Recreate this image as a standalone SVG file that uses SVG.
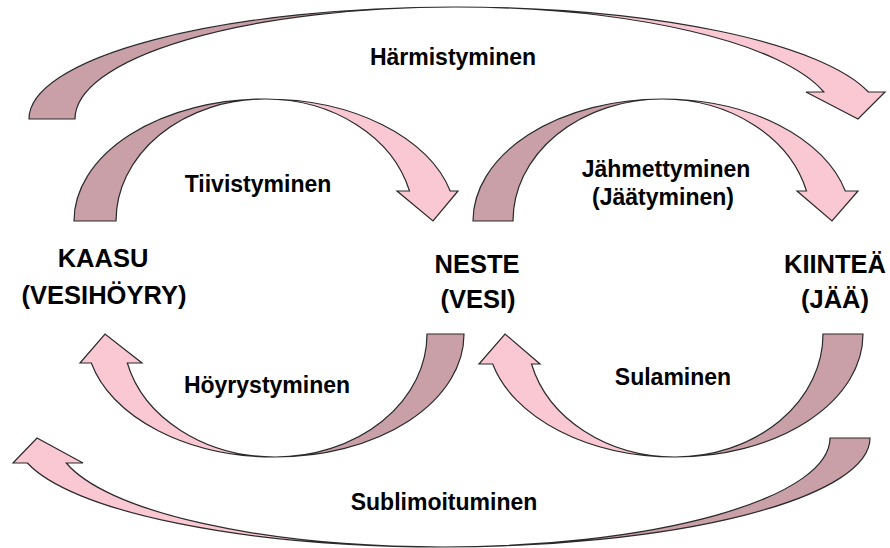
<svg xmlns="http://www.w3.org/2000/svg" width="890" height="548" viewBox="0 0 890 548">
  <style>
    .back { fill: #C9A0A7; stroke: #2a2a2a; stroke-width: 1.2; stroke-linejoin: miter; }
    .front { fill: #FAC8D2; stroke: #2a2a2a; stroke-width: 1.2; stroke-linejoin: miter; }
    .node { font-family: "Liberation Sans", Arial, sans-serif; font-weight: bold; font-size: 25.5px; fill: #000; text-anchor: middle; }
    .lbl { font-family: "Liberation Sans", Arial, sans-serif; font-weight: bold; font-size: 23px; fill: #000; text-anchor: middle; }
  </style>
  <rect width="890" height="548" fill="#ffffff"/>

  <g id="connectors">
    <!-- Härmistyminen (big top) -->
    <g id="c-harmistyminen">
      <path class="back" d="M 29,119 A 426 112 0 0 1 455,7 A 380 112 0 0 0 75,119 Z"/>
      <path class="front" d="M 455,7 A 426 112 0 0 1 868.4,92 L 885,92 L 858,119 L 806,92 L 823.8,92 A 380 112 0 0 0 455,7 Z"/>
      <text class="lbl" x="453" y="65">Härmistyminen</text>
    </g>
    <!-- Tiivistyminen -->
    <g id="c-tiivistyminen">
      <path class="back" d="M 74,221 A 191 122 0 0 1 265,99 A 149 122 0 0 0 116,221 Z"/>
      <path class="front" d="M 265,99 A 191 122 0 0 1 450.2,191 L 458,191 L 433,221 L 397,191 L 409.5,191 A 149 122 0 0 0 265,99 Z"/>
      <text class="lbl" x="258" y="192">Tiivistyminen</text>
    </g>
    <!-- Jähmettyminen -->
    <g id="c-jahmettyminen">
      <path class="back" d="M 473,221 A 189 122 0 0 1 662,99 A 149 122 0 0 0 513,221 Z"/>
      <path class="front" d="M 662,99 A 189 122 0 0 1 845.3,191 L 858,191 L 832,221 L 797,191 L 806.5,191 A 149 122 0 0 0 662,99 Z"/>
      <text class="lbl" x="666" y="177">Jähmettyminen</text>
      <text class="lbl" x="663" y="205">(Jäätyminen)</text>
    </g>
    <!-- Höyrystyminen -->
    <g id="c-hoyrystyminen">
      <path class="back" d="M 464,334 A 189 123 0 0 1 275,457 A 152 123 0 0 0 427,334 Z"/>
      <path class="front" d="M 275,457 A 189 123 0 0 1 91.3,363 L 80,363 L 105,334 L 142,363 L 127.3,363 A 152 123 0 0 0 275,457 Z"/>
      <text class="lbl" x="267" y="393">Höyrystyminen</text>
    </g>
    <!-- Sulaminen -->
    <g id="c-sulaminen">
      <path class="back" d="M 863,334 A 188 123 0 0 1 675,457 A 148 123 0 0 0 823,334 Z"/>
      <path class="front" d="M 675,457 A 188 123 0 0 1 492.7,364 L 479,364 L 505,334 L 540,364 L 531.5,364 A 148 123 0 0 0 675,457 Z"/>
      <text class="lbl" x="673" y="385">Sulaminen</text>
    </g>
    <!-- Sublimoituminen (big bottom) -->
    <g id="c-sublimoituminen">
      <path class="back" d="M 870,438 A 427 109 0 0 1 443,547 A 387 109 0 0 0 830,438 Z"/>
      <path class="front" d="M 443,547 A 427 109 0 0 1 27.4,463 L 13,463 L 37,438 L 83,463 L 66.3,463 A 387 109 0 0 0 443,547 Z"/>
      <text class="lbl" x="444" y="510">Sublimoituminen</text>
    </g>
  </g>

  <g id="kaasu">
    <text class="node" x="103" y="267">KAASU</text>
    <text class="node" x="104" y="304">(VESIHÖYRY)</text>
  </g>
  <g id="neste">
    <text class="node" x="477" y="273">NESTE</text>
    <text class="node" x="478" y="308">(VESI)</text>
  </g>
  <g id="kiintea">
    <text class="node" x="835" y="273">KIINTEÄ</text>
    <text class="node" x="835" y="308">(JÄÄ)</text>
  </g>
</svg>
